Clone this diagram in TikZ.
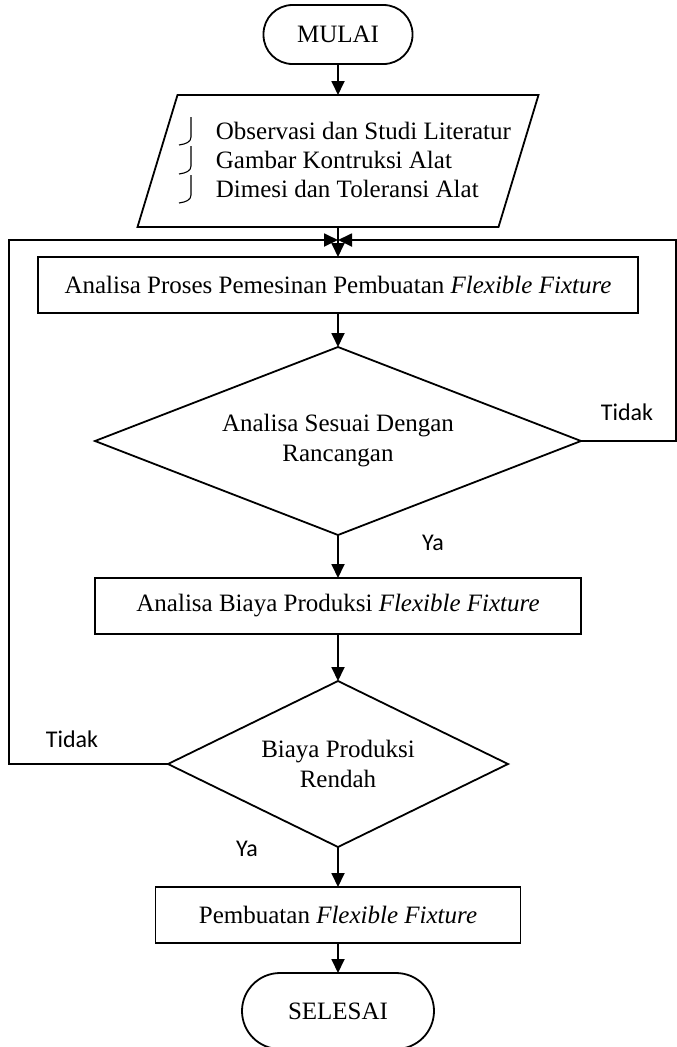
\documentclass[tikz,border=0pt]{standalone}
\usepackage{fontspec}
\setmainfont{Liberation Serif}
\newfontfamily\lblfont{Carlito}
\usetikzlibrary{arrows.meta,shapes.geometric}
\begin{document}
\begin{tikzpicture}[x=1pt,y=-1pt, line width=1.8pt,
  base/.style={draw, outer sep=0pt, inner sep=0pt, font=\fontsize{25}{30}\selectfont},
  term/.style={base, rounded corners=29pt, minimum width=149pt, minimum height=59pt},
  procbox/.style={base, rectangle, minimum height=56pt},
  decision/.style={base, diamond, align=center},
  flow/.style={-{Triangle[length=14pt,width=13pt]}},
  lbl/.style={font=\lblfont\fontsize{24}{28}\selectfont, inner sep=0pt},
  bracket/.style={line width=1.1pt}
]
\useasboundingbox (0,0) rectangle (677,1047);
\fill[white] (0,0) rectangle (677,1047);

% terminals, processes, decisions
\node[term] (start) at (338,34.5) {MULAI};
\node[minimum width=361pt, minimum height=132pt, inner sep=0pt, outer sep=0pt] (inp) at (338,161) {};
\draw[line join=miter] ([xshift=-20pt]inp.south west) -- ([xshift=-20pt]inp.south east)
   -- ([xshift=20pt]inp.north east) -- ([xshift=20pt]inp.north west) -- cycle;
\node[anchor=west, align=left, font=\fontsize{25}{29}\selectfont, inner sep=0pt] (inptext) at (215,160)
   {Observasi dan Studi Literatur\\Gambar Kontruksi Alat\\Dimesi dan Toleransi Alat};
\foreach \yy in {117,146,175} {
  \draw[bracket] (191,\yy) -- (191,\yy+20) .. controls (191,\yy+25) and (186,\yy+27) .. (179,\yy+28);
}

\node[procbox, minimum width=600pt] (p1) at (338,285) {Analisa Proses Pemesinan Pembuatan \textit{Flexible Fixture}};
\node[decision, shape aspect=2.585, minimum width=486pt, minimum height=188pt] (d1) at (338,441) {Analisa Sesuai Dengan\\Rancangan};
\node[procbox, minimum width=486pt] (p2) at (338,606) {Analisa Biaya Produksi \textit{Flexible Fixture}};
\node[decision, shape aspect=2.05, minimum width=340pt, minimum height=166pt] (d2) at (338,764) {Biaya Produksi\\Rendah};
\node[procbox, minimum width=365pt] (p3) at (338,915) {Pembuatan \textit{Flexible Fixture}};
\node[term, minimum width=192pt, minimum height=76pt, rounded corners=38pt] (end) at (338,1011) {SELESAI};

% connectors
\coordinate (m) at (338,240);
\coordinate (lc) at (9,240);
\coordinate (rc) at (676,240);
\draw[flow] (start) -- (inp);
\draw[flow] (inp) -- (p1);
\draw[flow] (p1) -- (d1);
\draw[flow] (d1) -- (p2);
\draw[flow] (p2) -- (d2);
\draw[flow] (d2) -- (p3);
\draw[flow] (p3) -- (end);
\draw[flow] (d2.west) -| (lc) -- (m);
\draw[flow] (d1.east) -| (rc) -- (m);

% labels
\node[lbl] (t1) at (627,412) {Tidak};
\node[lbl] (t2) at (72,739) {Tidak};
\node[lbl] (y1) at (433,543) {Ya};
\node[lbl] (y2) at (247,849) {Ya};
\end{tikzpicture}
\end{document}
